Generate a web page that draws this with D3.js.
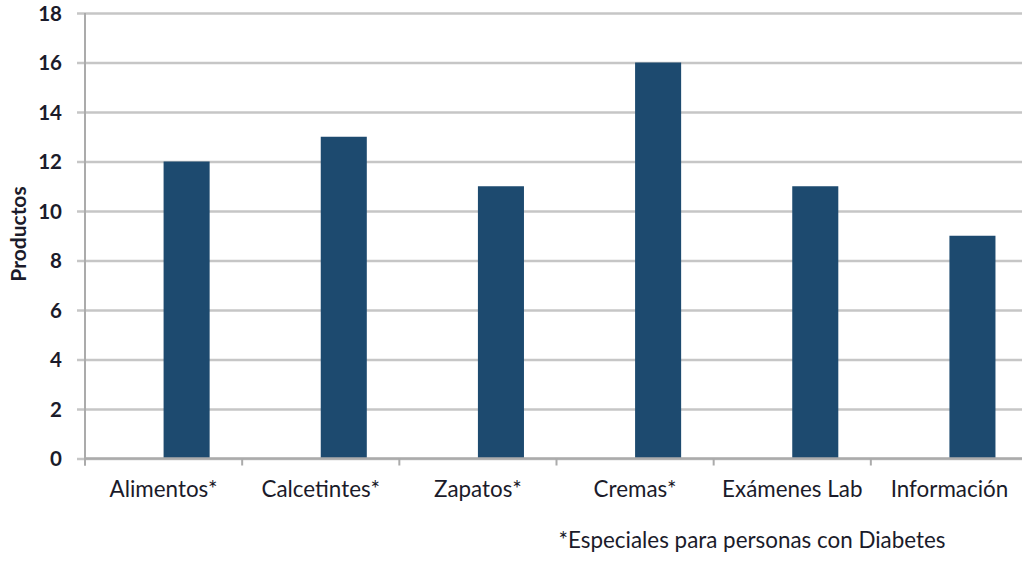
<!DOCTYPE html>
<html>
<head>
<meta charset="utf-8">
<script src="https://cdn.jsdelivr.net/npm/d3@7"></script>
<style>
  html, body { margin: 0; padding: 0; background: #fff; }
  svg { display: block; }
  text { font-family: Lato, "Open Sans", sans-serif; }
</style>
</head>
<body>
<svg id="chart" width="1022" height="561"></svg>
<script>
// Product counts per category
const categories = ["Alimentos*", "Calcetintes*", "Zapatos*", "Cremas*", "Exámenes Lab", "Información"];
const values = [12, 13, 11, 16, 11, 9];
const yTicks = [0, 2, 4, 6, 8, 10, 12, 14, 16, 18];
const yTitle = "Productos";
const footnote = "*Especiales para personas con Diabetes";

const W = 1022, H = 561;
const plotLeft = 85, plotRight = 1028, plotTop = 13, plotBottom = 458.5;

const svg = d3.select("#chart");

const x = d3.scaleBand().domain(categories).range([plotLeft, plotRight]).padding(0);
const y = d3.scaleLinear().domain([0, 18]).range([plotBottom, plotTop]);

const gridColor = "#c6c6c6";
const axisColor = "#ababab";
const textColor = "#1b1b2a";
const labelSize = 22.4;

// horizontal gridlines with labels
const yAxis = d3.axisLeft(y).tickValues(yTicks).tickSize(-(W - plotLeft)).tickPadding(23);
const gy = svg.append("g").attr("transform", `translate(${plotLeft},0)`).call(yAxis);
gy.select(".domain").remove();
gy.selectAll(".tick line")
  .attr("x1", -8)
  .attr("stroke", gridColor)
  .attr("stroke-width", 2.6);
gy.selectAll(".tick text")
  .attr("fill", textColor)
  .attr("font-size", 20.5)
  .attr("font-weight", "bold")
  .attr("dy", "0.35em");

// vertical axis line
svg.append("line")
  .attr("x1", plotLeft).attr("x2", plotLeft)
  .attr("y1", y(18)).attr("y2", plotBottom + 7)
  .attr("stroke", axisColor).attr("stroke-width", 2);

// bars (second slot of each category group)
svg.append("g").selectAll("rect")
  .data(categories)
  .join("rect")
  .attr("x", (d) => x(d) + x.bandwidth() * 0.5)
  .attr("width", x.bandwidth() * 0.293)
  .attr("y", (d, i) => y(values[i]))
  .attr("height", (d, i) => y(0) - y(values[i]))
  .attr("fill", "#1d4a6f");

// category axis
svg.append("line")
  .attr("x1", plotLeft).attr("x2", W)
  .attr("y1", plotBottom).attr("y2", plotBottom)
  .attr("stroke", axisColor).attr("stroke-width", 2.4);

svg.append("g").selectAll("line")
  .data(categories)
  .join("line")
  .attr("x1", (d) => x(d)).attr("x2", (d) => x(d))
  .attr("y1", plotBottom).attr("y2", plotBottom + 7)
  .attr("stroke", axisColor).attr("stroke-width", 2);

const xAxis = d3.axisBottom(x).tickSize(0).tickPadding(0);
const gx = svg.append("g").attr("transform", `translate(0,${plotBottom})`).call(xAxis);
gx.select(".domain").remove();
gx.selectAll(".tick text")
  .attr("fill", textColor)
  .attr("font-size", labelSize)
  .attr("y", 38.5)
  .attr("dy", 0);

// y axis title
svg.append("text")
  .attr("transform", `translate(26,234) rotate(-90)`)
  .attr("text-anchor", "middle")
  .attr("fill", textColor)
  .attr("font-size", 21)
  .attr("font-weight", "bold")
  .text(yTitle);

// footnote
svg.append("text")
  .attr("x", 752)
  .attr("y", 548)
  .attr("text-anchor", "middle")
  .attr("fill", textColor)
  .attr("font-size", labelSize)
  .text(footnote);
</script>
</body>
</html>
